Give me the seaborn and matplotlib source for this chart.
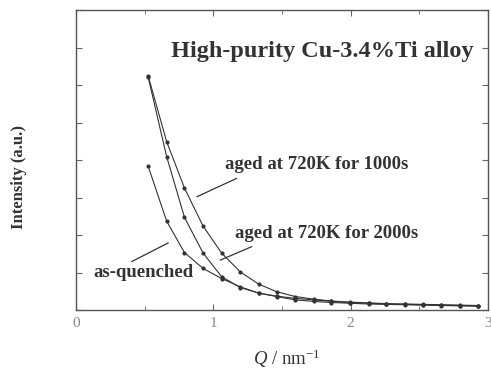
import matplotlib
matplotlib.use("Agg")
import matplotlib.pyplot as plt
import seaborn as sns
import pandas as pd
from matplotlib.ticker import MultipleLocator, NullFormatter

q = [0.525, 0.66, 0.79, 0.925, 1.06, 1.195, 1.33, 1.46, 1.595, 1.73,
     1.86, 1.995, 2.13, 2.26, 2.395, 2.53, 2.66, 2.795, 2.93]
aged_1000 = [6.25, 4.49, 3.25, 2.24, 1.52, 1.02, 0.69, 0.49, 0.36, 0.29,
             0.24, 0.21, 0.19, 0.17, 0.16, 0.15, 0.14, 0.13, 0.12]
aged_2000 = [6.22, 4.09, 2.47, 1.52, 0.89, 0.60, 0.45, 0.37, 0.31, 0.27,
             0.23, 0.20, 0.18, 0.16, 0.15, 0.14, 0.13, 0.12, 0.11]
as_quenched = [3.84, 2.37, 1.53, 1.11, 0.84, 0.62, 0.45, 0.36, 0.27, 0.23,
               0.20, 0.18, 0.16, 0.15, 0.14, 0.13, 0.12, 0.11, 0.10]
series_names = ["aged at 720K for 1000s", "aged at 720K for 2000s", "as-quenched"]
title = "High-purity Cu-3.4%Ti alloy"

df = pd.concat([
    pd.DataFrame({"Q": q, "I": aged_1000, "s": series_names[0]}),
    pd.DataFrame({"Q": q, "I": aged_2000, "s": series_names[1]}),
    pd.DataFrame({"Q": q, "I": as_quenched, "s": series_names[2]}),
])

sns.set_style("ticks")
plt.rcParams["font.family"] = ["Liberation Serif", "DejaVu Serif"]
plt.rcParams["mathtext.fontset"] = "custom"
plt.rcParams["mathtext.it"] = "Liberation Serif:italic"
plt.rcParams["mathtext.rm"] = "Liberation Serif"

fig = plt.figure(figsize=(4.91, 3.69), dpi=100)
ax = fig.add_axes([76/491, 1-310/369, (488-76)/491, 300/369])

tc = "#333333"
sns.lineplot(data=df, x="Q", y="I", hue="s", palette=[tc, tc, tc],
             marker="o", markersize=3, markeredgewidth=0, linewidth=0.8,
             legend=False, ax=ax, sort=False)

ax.set_xlim(0, 3)
ax.set_ylim(0, 8)
ax.xaxis.set_major_locator(MultipleLocator(1))
ax.xaxis.set_minor_locator(MultipleLocator(0.5))
ax.yaxis.set_major_locator(MultipleLocator(1))
ax.yaxis.set_major_formatter(NullFormatter())
ax.tick_params(which="both", direction="in", top=True, right=True,
               color="#666666", labelcolor="#888888", labelsize=11, pad=5)
ax.tick_params(which="major", length=4)
ax.tick_params(which="minor", length=3)
for sp in ax.spines.values():
    sp.set_color("#555555")
    sp.set_linewidth(1.0)

ax.set_xlabel(r"$Q$ / nm$^{-1}$", fontsize=13.5, color=tc)
ax.xaxis.set_label_coords(0.512, -0.125)
ax.set_ylabel("Intensity (a.u.)", fontsize=12, fontweight="bold", color=tc)
ax.yaxis.set_label_coords(-0.12, 0.443)

ax.text(0.964, 0.86, title, transform=ax.transAxes, ha="right", va="center",
        fontsize=17.5, fontweight="bold", color=tc)

lbl = dict(fontsize=13.5, fontweight="bold", color=tc, ha="left", va="center")
arr = dict(arrowstyle="-", color=tc, lw=0.9, shrinkA=0, shrinkB=0)
ax.text(1.085, 3.87, series_names[0], **lbl)
ax.annotate("", xy=(0.88, 3.02), xytext=(1.17, 3.51), arrowprops=arr)
ax.text(1.158, 2.05, series_names[1], **lbl)
ax.annotate("", xy=(1.05, 1.33), xytext=(1.28, 1.69), arrowprops=arr)
ax.text(0.124, 0.99, series_names[2], **lbl)
ax.annotate("", xy=(0.672, 1.79), xytext=(0.405, 1.29), arrowprops=arr)

fig.savefig("out.png", dpi=100)
